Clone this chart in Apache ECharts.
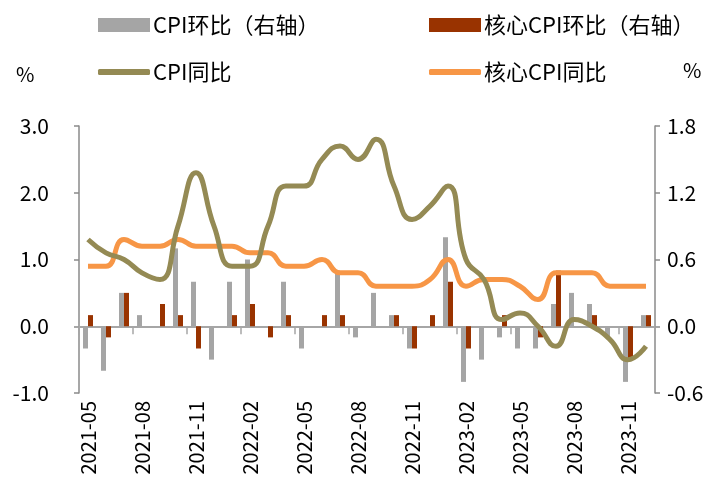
<!DOCTYPE html>
<html>
<head>
<meta charset="utf-8">
<script src="https://cdn.jsdelivr.net/npm/echarts@6/dist/echarts.min.js"></script>
<style>
  html, body { margin: 0; padding: 0; background: #fff; }
  #chart { width: 722px; height: 501px; }
</style>
</head>
<body>
<div id="chart"></div>
<script>
    // 月份
    var months = ['2021-05', '2021-06', '2021-07', '2021-08', '2021-09', '2021-10', '2021-11', '2021-12',
        '2022-01', '2022-02', '2022-03', '2022-04', '2022-05', '2022-06', '2022-07', '2022-08', '2022-09',
        '2022-10', '2022-11', '2022-12', '2023-01', '2023-02', '2023-03', '2023-04', '2023-05', '2023-06',
        '2023-07', '2023-08', '2023-09', '2023-10', '2023-11', '2023-12'];
    // CPI环比（右轴）
    var cpiMom = [-0.2, -0.4, 0.3, 0.1, 0.0, 0.7, 0.4, -0.3, 0.4, 0.6, 0.0, 0.4, -0.2, 0.0, 0.5, -0.1,
        0.3, 0.1, -0.2, 0.0, 0.8, -0.5, -0.3, -0.1, -0.2, -0.2, 0.2, 0.3, 0.2, -0.1, -0.5, 0.1];
    // 核心CPI环比（右轴）
    var coreMom = [0.1, -0.1, 0.3, 0.0, 0.2, 0.1, -0.2, 0.0, 0.1, 0.2, -0.1, 0.1, 0.0, 0.1, 0.1, 0.0,
        0.0, 0.1, -0.2, 0.1, 0.4, -0.2, 0.0, 0.1, 0.0, -0.1, 0.5, 0.0, 0.1, 0.0, -0.3, 0.1];
    // CPI同比
    var cpiYoy = [1.3, 1.1, 1.0, 0.8, 0.7, 1.5, 2.3, 1.5, 0.9, 0.9, 1.5, 2.1, 2.1, 2.5, 2.7, 2.5,
        2.8, 2.1, 1.6, 1.8, 2.1, 1.0, 0.7, 0.1, 0.2, 0.0, -0.3, 0.1, 0.0, -0.2, -0.5, -0.3];
    // 核心CPI同比
    var coreYoy = [0.9, 0.9, 1.3, 1.2, 1.2, 1.3, 1.2, 1.2, 1.2, 1.1, 1.1, 0.9, 0.9, 1.0, 0.8, 0.8,
        0.6, 0.6, 0.6, 0.7, 1.0, 0.6, 0.7, 0.7, 0.6, 0.4, 0.8, 0.8, 0.8, 0.6, 0.6, 0.6];

    var leftTicks = [-1, 3, 1];
    var rightTicks = [-0.6, 1.8, 0.6];

    var font = '"Liberation Sans Narrow", "Noto Sans CJK SC", sans-serif';
    var axisColor = '#8a8a8a';
    var colors = ['#a5a5a5', '#993300', '#948a54', '#f79646'];

    var chart = echarts.init(document.getElementById('chart'));

    function legendItem(name, left, top, icon, h) {
        return {
            data: [{ name: name, icon: icon }],
            left: left,
            top: top,
            itemWidth: 52,
            itemHeight: h,
            itemGap: 0,
            textStyle: { fontFamily: font, fontSize: 22, color: '#000', padding: [0, 0, 0, -2] }
        };
    }

    var option = {
        animation: false,
        color: colors,
        textStyle: { fontFamily: font },
        legend: [
            legendItem('CPI环比（右轴）', 93, 9, 'rect', 14),
            legendItem('核心CPI环比（右轴）', 424, 9, 'rect', 14),
            legendItem('CPI同比', 93, 56, 'roundRect', 6),
            legendItem('核心CPI同比', 424, 56, 'roundRect', 6)
        ],
        graphic: [
            { type: 'text', left: 16, top: 64, style: { text: '%', font: '20px ' + font, fill: '#000' } },
            { type: 'text', left: 683, top: 60, style: { text: '%', font: '20px ' + font, fill: '#000' } }
        ],
        grid: { left: 79, right: 67, top: 126, bottom: 108 },
        xAxis: [{
            type: 'category',
            data: months,
            boundaryGap: true,
            axisLine: { show: false, onZero: false },
            axisTick: { show: false },
            axisLabel: {
                rotate: 90,
                interval: 2,
                margin: 8,
                fontSize: 20,
                color: '#000',
                fontFamily: font
            }
        }, {
            type: 'category',
            data: months,
            boundaryGap: true,
            position: 'bottom',
            axisLine: { show: true, onZero: true, lineStyle: { color: '#a6a6a6', width: 2 } },
            axisTick: { show: true, interval: 2, length: 8, lineStyle: { color: '#a6a6a6', width: 1.5 } },
            axisLabel: { show: false }
        }],
        yAxis: [{
            type: 'value',
            min: leftTicks[0],
            max: leftTicks[1],
            interval: leftTicks[2],
            axisLine: { show: true, lineStyle: { color: axisColor, width: 1.5 } },
            axisTick: { show: true, length: 5, lineStyle: { color: axisColor, width: 1.5 } },
            splitLine: { show: false },
            axisLabel: {
                margin: 30,
                fontSize: 21,
                color: '#000',
                fontFamily: font,
                formatter: function (v) { return v.toFixed(1); }
            }
        }, {
            type: 'value',
            min: rightTicks[0],
            max: rightTicks[1],
            interval: rightTicks[2],
            axisLine: { show: true, lineStyle: { color: axisColor, width: 1.5 } },
            axisTick: { show: true, length: 5, lineStyle: { color: axisColor, width: 1.5 } },
            splitLine: { show: false },
            axisLabel: {
                margin: 12,
                fontSize: 21,
                color: '#000',
                fontFamily: font,
                formatter: function (v) { return v.toFixed(1); }
            }
        }],
        series: [{
            name: 'CPI环比（右轴）',
            type: 'bar',
            yAxisIndex: 1,
            barWidth: 5,
            barGap: '0%',
            itemStyle: { color: colors[0] },
            data: cpiMom
        }, {
            name: '核心CPI环比（右轴）',
            type: 'bar',
            yAxisIndex: 1,
            barWidth: 5,
            barGap: '0%',
            itemStyle: { color: colors[1] },
            data: coreMom
        }, {
            name: 'CPI同比',
            type: 'line',
            smooth: 0.5,
            showSymbol: false,
            lineStyle: { color: colors[2], width: 5 },
            itemStyle: { color: colors[2] },
            z: 4,
            data: cpiYoy
        }, {
            name: '核心CPI同比',
            type: 'line',
            smooth: 0.5,
            showSymbol: false,
            lineStyle: { color: colors[3], width: 5 },
            itemStyle: { color: colors[3] },
            z: 3,
            data: coreYoy
        }]
    };

    if (option && typeof option === "object") {
        chart.setOption(option, true);
    }
</script>
</body>
</html>
